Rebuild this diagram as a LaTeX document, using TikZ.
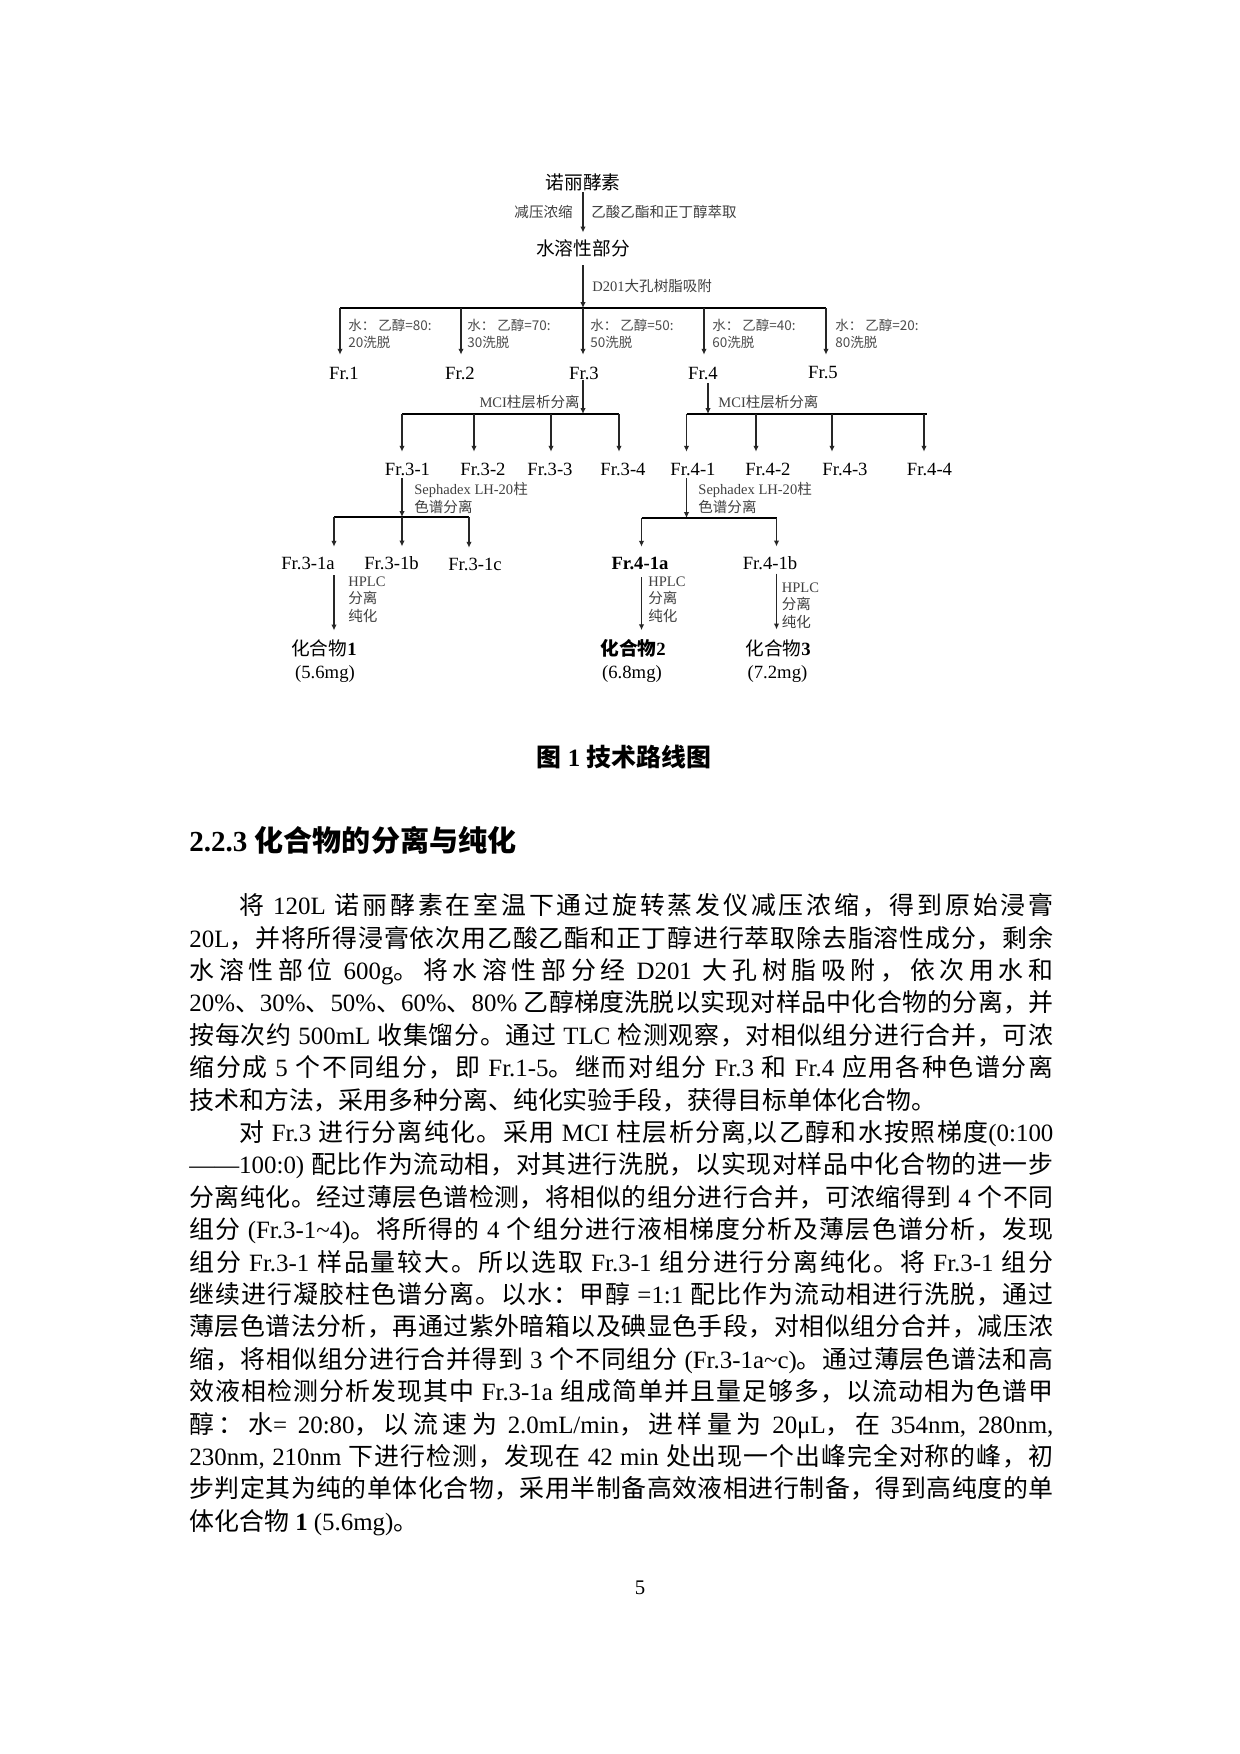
\documentclass[tikz,border=0pt]{standalone}
\usepackage{fontspec}
\setmainfont{Liberation Serif}
\newfontfamily\cjkf{Noto Sans CJK SC}
\newfontfamily\latf{Liberation Serif}
\usetikzlibrary{arrows.meta}

\XeTeXinterchartokenstate=1
\newXeTeXintercharclass\CJKcls
\newcount\cjkc
\cjkc="3000 \loop\XeTeXcharclass\cjkc=\CJKcls\ifnum\cjkc<"303F \advance\cjkc by 1 \repeat
\cjkc="4E00 \loop\XeTeXcharclass\cjkc=\CJKcls\ifnum\cjkc<"9FFF \advance\cjkc by 1 \repeat
\cjkc="FF00 \loop\XeTeXcharclass\cjkc=\CJKcls\ifnum\cjkc<"FFEF \advance\cjkc by 1 \repeat
\XeTeXinterchartoks 0 \CJKcls = {\cjkf}
\XeTeXinterchartoks 4095 \CJKcls = {\cjkf}
\XeTeXinterchartoks \CJKcls 0 = {\latf}
\XeTeXinterchartoks \CJKcls 4095 = {\latf}
\XeTeXinterchartoks \CJKcls \CJKcls = {\hskip 0pt plus 1.5pt minus 0.3pt}

\newcommand\elufont{\XeTeXinterchartokenstate=0 \cjkf}
\newlength\pxu
\setlength\pxu{0.16935mm}

\tikzset{
  lbl/.style={inner sep=0pt, font=\fontsize{9}{11}\selectfont},
  ann/.style={inner sep=0pt, font=\fontsize{7}{8.5}\selectfont, text=black!75, align=left},
  elu/.style={inner sep=0pt, font=\fontsize{6.5}{8.2}\selectfont\elufont, text=black!70, align=left},
  arr/.style={draw=black!85, line width=0.6pt, -{Latex[length=2.8pt,width=2.6pt]}},
  barline/.style={draw=black, line width=0.7pt},
  bodyline/.style={anchor=base west, inner sep=0pt, font=\fontsize{12}{14}\selectfont},
}

\begin{document}
\begin{tikzpicture}[x=0.16935mm,y=-0.16935mm]
\fill[white] (0,0) rectangle (1240,1754);
\useasboundingbox (0,0) rectangle (1240,1754);

% ---------- top ----------
\node[lbl] (n0) at (583,182) {诺丽酵素};
\node[lbl] (n1) at (583,248) {水溶性部分};
\node[ann,anchor=east] (a1) at (573,212) {减压浓缩};
\node[ann,anchor=west] (a2) at (591,212) {乙酸乙酯和正丁醇萃取};
\node[ann,anchor=west] (a3) at (592,286) {D201大孔树脂吸附};

\coordinate (J0) at (583,308);
\coordinate (B1) at (340,308);
\coordinate (B2) at (461,308);
\coordinate (B3) at (583,308);
\coordinate (B4) at (704,308);
\coordinate (B5) at (826,308);

\node[lbl] (F1) at (344,373) {Fr.1};
\node[lbl] (F2) at (460,373) {Fr.2};
\node[lbl] (F3) at (584,373) {Fr.3};
\node[lbl] (F4) at (703,373) {Fr.4};
\node[lbl] (F5) at (823,373) {Fr.5};

\node[elu,anchor=north west] (e1) at (348,318.5) {水： 乙醇=80:\\20洗脱};
\node[elu,anchor=north west] (e2) at (467,318.5) {水： 乙醇=70:\\30洗脱};
\node[elu,anchor=north west] (e3) at (590,318.5) {水： 乙醇=50:\\50洗脱};
\node[elu,anchor=north west] (e4) at (712,318.5) {水： 乙醇=40:\\60洗脱};
\node[elu,anchor=north west] (e5) at (835,318.5) {水： 乙醇=20:\\80洗脱};

% ---------- MCI level ----------
\coordinate (J3) at (583,414);
\coordinate (J4) at (708,414);
\coordinate (L1) at (402,414);
\coordinate (L2) at (474,414);
\coordinate (L3) at (551,414);
\coordinate (L4) at (619,414);
\coordinate (R1) at (686.5,414);
\coordinate (R2) at (756,414);
\coordinate (R3) at (832,414);
\coordinate (R4) at (924,414);
\coordinate (R5) at (926.5,414);

\node[ann,anchor=east] (m1) at (580,402) {MCI柱层析分离};
\node[ann,anchor=west] (m2) at (718,402) {MCI柱层析分离};

\node[lbl] (G1) at (407.5,469) {Fr.3-1};
\node[lbl] (G2) at (483,469) {Fr.3-2};
\node[lbl] (G3) at (550,469) {Fr.3-3};
\node[lbl] (G4) at (623,469) {Fr.3-4};
\node[lbl] (H1) at (693,469) {Fr.4-1};
\node[lbl] (H2) at (768,469) {Fr.4-2};
\node[lbl] (H3) at (845,469) {Fr.4-3};
\node[lbl] (H4) at (929.5,469) {Fr.4-4};

\node[ann,anchor=north west] (s1) at (414,482) {Sephadex LH-20柱\\色谱分离};
\node[ann,anchor=north west] (s2) at (698,482) {Sephadex LH-20柱\\色谱分离};

% ---------- Sephadex level ----------
\coordinate (P1) at (334,517);
\coordinate (P2) at (402,517);
\coordinate (P3) at (469,517);
\coordinate (Q0) at (686.5,518);
\coordinate (Q1) at (641.5,518);
\coordinate (Q2) at (776.5,518);

\node[lbl] (K1) at (308,563) {Fr.3-1a};
\node[lbl] (K2) at (391.5,563) {Fr.3-1b};
\node[lbl] (K3) at (475,564) {Fr.3-1c};
\node[lbl] (M1) at (640,563) {\bfseries Fr.4-1a};
\node[lbl] (M2) at (770,563) {Fr.4-1b};

\node[ann,anchor=north west] (h1) at (348,576) {HPLC\\分离\\纯化};
\node[ann,anchor=north west] (h2) at (648,576) {HPLC\\分离\\纯化};
\node[ann,anchor=north west] (h3) at (781.5,582) {HPLC\\分离\\纯化};

\node[lbl] (C1) at (324,648) {化合物\textbf{1}};
\node[lbl] (C2) at (633,648) {\bfseries 化合物2};
\node[lbl] (C3) at (778,648) {化合物\textbf{3}};
\node[lbl] (W1) at (325,674) {(5.6mg)};
\node[lbl] (W2) at (632,674) {(6.8mg)};
\node[lbl] (W3) at (777.5,674) {(7.2mg)};

% ---------- connectors ----------
\draw[arr,shorten <=0.7pt,shorten >=3.1pt] (n0.south) -- (n1.north);
\draw[arr,shorten <=4pt] (n1.south) -- (J0);
\draw[barline] (B1) -- (B5);
\draw[arr,shorten >=5.6pt] (B1) -- (B1 |- F1.north);
\draw[arr,shorten >=5.6pt] (B2) -- (B2 |- F2.north);
\draw[arr,shorten >=5.6pt] (B3) -- (B3 |- F3.north);
\draw[arr,shorten >=5.6pt] (B4) -- (B4 |- F4.north);
\draw[arr,shorten >=5.6pt] (B5) -- (B5 |- F5.north);

\draw[arr] (F3.south -| J3) -- (J3);
\draw[arr,shorten <=1.5pt] (F4.south -| J4) -- (J4);
\draw[barline] (L1) -- (L4);
\draw[barline] (R1) -- (R5);
\draw[arr,shorten >=5.1pt] (L1) -- (L1 |- G1.north);
\draw[arr,shorten >=5.1pt] (L2) -- (L2 |- G2.north);
\draw[arr,shorten >=5.1pt] (L3) -- (L3 |- G3.north);
\draw[arr,shorten >=5.1pt] (L4) -- (L4 |- G4.north);
\draw[arr,shorten >=5.1pt] (R1) -- (R1 |- H1.north);
\draw[arr,shorten >=5.1pt] (R2) -- (R2 |- H2.north);
\draw[arr,shorten >=5.1pt] (R3) -- (R3 |- H3.north);
\draw[arr,shorten >=5.1pt] (R4) -- (R4 |- H4.north);

\draw[arr,shorten <=1.2pt] (G1.south -| P2) -- (P2);
\draw[arr,shorten <=1.2pt] (H1.south -| Q0) -- (Q0);
\draw[barline] (P1) -- (P3);
\draw[barline] (Q1) -- (Q2);
\draw[arr,shorten >=4.6pt] (P1) -- (P1 |- K1.north);
\draw[arr,shorten >=4.6pt] (P2) -- (P2 |- K2.north);
\draw[arr,shorten >=4.6pt] (P3) -- (P3 |- K3.north);
\draw[arr,shorten >=4.6pt] (Q1) -- (Q1 |- M1.north);
\draw[arr,shorten >=4.6pt] (Q2) -- (Q2 |- M2.north);

\draw[arr,shorten <=2.7pt,shorten >=4.1pt] (K1.south -| P1) -- (C1.north -| P1);
\draw[arr,shorten <=3.6pt,shorten >=4.1pt] (M1.south -| Q1) -- (C2.north -| Q1);
\draw[arr,shorten <=1.7pt,shorten >=4.6pt] (M2.south -| Q2) -- (C3.north -| Q2);

% ---------- caption & heading ----------
\node[inner sep=0pt,font=\fontsize{12}{14}\selectfont\bfseries] (cap) at (624,756.6) {图 1 技术路线图};
\node[anchor=base west,inner sep=0pt,font=\fontsize{14}{17}\selectfont\bfseries] (hd) at (189,851.5) {2.2.3 化合物的分离与纯化};

% ---------- body ----------
\node[bodyline] (t1) at (189,914.6) {\hbox to 864\pxu{\hskip 2em 将 120L 诺丽酵素在室温下通过旋转蒸发仪减压浓缩，得到原始浸膏}};
\node[bodyline] (t2) at (189,947.0) {\hbox to 864\pxu{20L，并将所得浸膏依次用乙酸乙酯和正丁醇进行萃取除去脂溶性成分，剩余}};
\node[bodyline] (t3) at (189,979.4) {\hbox to 864\pxu{水溶性部位 600g。将水溶性部分经 D201 大孔树脂吸附，依次用水和}};
\node[bodyline] (t4) at (189,1011.8) {\hbox to 864\pxu{20\%、30\%、50\%、60\%、80\% 乙醇梯度洗脱以实现对样品中化合物的分离，并}};
\node[bodyline] (t5) at (189,1044.2) {\hbox to 864\pxu{按每次约 500mL 收集馏分。通过 TLC 检测观察，对相似组分进行合并，可浓}};
\node[bodyline] (t6) at (189,1076.6) {\hbox to 864\pxu{缩分成 5 个不同组分，即 Fr.1-5。继而对组分 Fr.3 和 Fr.4 应用各种色谱分离}};
\node[bodyline] (t7) at (189,1109.0) {\hbox{技术和方法，采用多种分离、纯化实验手段，获得目标单体化合物。}};
\node[bodyline] (t8) at (189,1141.4) {\hbox to 864\pxu{\hskip 2em 对 Fr.3 进行分离纯化。采用 MCI 柱层析分离,以乙醇和水按照梯度(0:100}};
\node[bodyline] (t9) at (189,1173.8) {\hbox to 864\pxu{——100:0) 配比作为流动相，对其进行洗脱，以实现对样品中化合物的进一步}};
\node[bodyline] (t10) at (189,1206.2) {\hbox to 864\pxu{分离纯化。经过薄层色谱检测，将相似的组分进行合并，可浓缩得到 4 个不同}};
\node[bodyline] (t11) at (189,1238.6) {\hbox to 864\pxu{组分 (Fr.3-1\textasciitilde 4)。将所得的 4 个组分进行液相梯度分析及薄层色谱分析，发现}};
\node[bodyline] (t12) at (189,1271.0) {\hbox to 864\pxu{组分 Fr.3-1 样品量较大。所以选取 Fr.3-1 组分进行分离纯化。将 Fr.3-1 组分}};
\node[bodyline] (t13) at (189,1303.4) {\hbox to 864\pxu{继续进行凝胶柱色谱分离。以水：甲醇 =1:1 配比作为流动相进行洗脱，通过}};
\node[bodyline] (t14) at (189,1335.8) {\hbox to 864\pxu{薄层色谱法分析，再通过紫外暗箱以及碘显色手段，对相似组分合并，减压浓}};
\node[bodyline] (t15) at (189,1368.2) {\hbox to 864\pxu{缩，将相似组分进行合并得到 3 个不同组分 (Fr.3-1a\textasciitilde c)。通过薄层色谱法和高}};
\node[bodyline] (t16) at (189,1400.6) {\hbox to 864\pxu{效液相检测分析发现其中 Fr.3-1a 组成简单并且量足够多，以流动相为色谱甲}};
\node[bodyline] (t17) at (189,1433.0) {\hbox to 864\pxu{醇：水= 20:80，以流速为 2.0mL/min，进样量为 20μL，在 354nm, 280nm,}};
\node[bodyline] (t18) at (189,1465.4) {\hbox to 864\pxu{230nm, 210nm 下进行检测，发现在 42 min 处出现一个出峰完全对称的峰，初}};
\node[bodyline] (t19) at (189,1497.8) {\hbox to 864\pxu{步判定其为纯的单体化合物，采用半制备高效液相进行制备，得到高纯度的单}};
\node[bodyline] (t20) at (189,1530.2) {\hbox{体化合物 \textbf{1} (5.6mg)。}};

\node[inner sep=0pt,font=\fontsize{10}{12}\selectfont] (pg) at (640,1588) {5};
\end{tikzpicture}
\end{document}
